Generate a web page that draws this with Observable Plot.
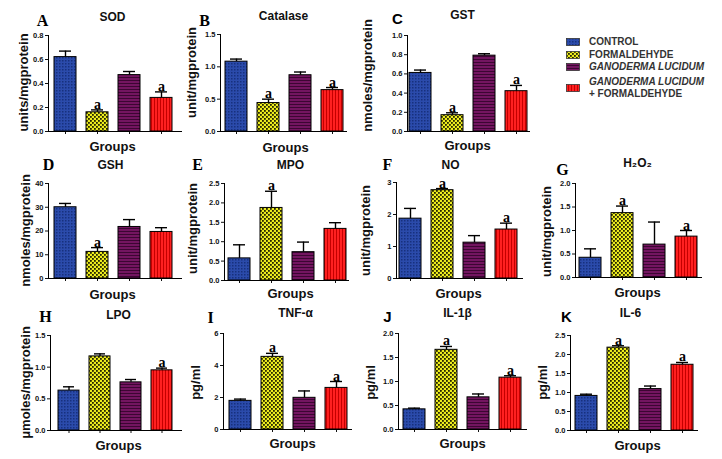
<!DOCTYPE html>
<html><head><meta charset="utf-8">
<script src="https://cdn.jsdelivr.net/npm/d3@7"></script>
<script src="https://cdn.jsdelivr.net/npm/@observablehq/plot@0.6"></script>
<style>
body{margin:0;background:#fff;}
#page{position:relative;width:722px;height:459px;overflow:hidden;font-family:"Liberation Sans",Arial,sans-serif;background:#fff;}
.panel{position:absolute;}
.panel svg{overflow:visible;}
#legend{position:absolute;left:566px;top:34px;font:bold 10px "Liberation Sans",Arial,sans-serif;color:#333;}
.lg{position:absolute;white-space:nowrap;}
.lg svg{position:absolute;left:0;}
.lg span{position:absolute;left:23px;line-height:12px;}
</style></head><body>
<svg width="0" height="0" style="position:absolute">
<defs>
<pattern id="pCtrl" width="3" height="3" patternUnits="userSpaceOnUse"><rect width="3" height="3" fill="#2b4bab"/><rect width="1.5" height="1.5" fill="#17307e"/></pattern>
<pattern id="pForm" width="4" height="4" patternUnits="userSpaceOnUse"><rect width="4" height="4" fill="#ecec1e"/><rect width="1.8" height="1.8" fill="#262600"/><rect x="2" y="2" width="1.8" height="1.8" fill="#262600"/></pattern>
<pattern id="pGano" width="4" height="3" patternUnits="userSpaceOnUse"><rect width="4" height="3" fill="#731560"/><rect y="2" width="4" height="1" fill="#3c0632"/></pattern>
<pattern id="pComb" width="3" height="4" patternUnits="userSpaceOnUse"><rect width="3" height="4" fill="#ff2020"/><rect x="2" width="1" height="4" fill="#c40000"/></pattern>
</defs></svg>
<div id="page"></div>
<script>
// ---- data ----
const groups = ["CONTROL", "FORMALDEHYDE", "GANODERMA LUCIDUM", "GANODERMA LUCIDUM + FORMALDEHYDE"];
const groupFills = ["url(#pCtrl)", "url(#pForm)", "url(#pGano)", "url(#pComb)"];

const sodMean = [0.62, 0.16, 0.47, 0.28];   const sodSem = [0.05, 0.02, 0.03, 0.05];   const sodSig = [0, 1, 0, 1];
const catMean = [1.08, 0.44, 0.87, 0.64];   const catSem = [0.04, 0.06, 0.05, 0.04];   const catSig = [0, 1, 0, 1];
const gstMean = [0.61, 0.17, 0.79, 0.42];   const gstSem = [0.03, 0.025, 0.02, 0.06];  const gstSig = [0, 1, 0, 1];
const gshMean = [30, 11.2, 21.7, 19.6];     const gshSem = [1.6, 1.8, 3.1, 1.8];       const gshSig = [0, 1, 0, 0];
const mpoMean = [0.57, 1.87, 0.73, 1.33];   const mpoSem = [0.35, 0.43, 0.26, 0.16];   const mpoSig = [0, 1, 0, 0];
const noMean  = [1.87, 2.76, 1.12, 1.53];   const noSem  = [0.32, 0.05, 0.22, 0.2];    const noSig  = [0, 1, 0, 1];
const h2o2Mean = [0.42, 1.37, 0.70, 0.87];  const h2o2Sem = [0.19, 0.15, 0.48, 0.13];  const h2o2Sig = [0, 1, 0, 1];
const lpoMean = [0.63, 1.17, 0.76, 0.95];   const lpoSem = [0.06, 0.04, 0.045, 0.035]; const lpoSig = [0, 0, 0, 1];
const tnfMean = [1.79, 4.54, 1.98, 2.6];    const tnfSem = [0.11, 0.22, 0.43, 0.4];    const tnfSig = [0, 1, 0, 1];
const il1Mean = [0.42, 1.66, 0.67, 1.08];   const il1Sem = [0.025, 0.07, 0.07, 0.04];  const il1Sig = [0, 1, 0, 1];
const il6Mean = [0.91, 2.18, 1.09, 1.73];   const il6Sem = [0.045, 0.05, 0.08, 0.06];  const il6Sig = [0, 1, 0, 1];

const sodTicks = [0, 0.2, 0.4, 0.6, 0.8];
const catTicks = [0, 0.5, 1.0, 1.5];
const gstTicks = [0, 0.2, 0.4, 0.6, 0.8, 1.0];
const gshTicks = [0, 10, 20, 30, 40];
const mpoTicks = [0, 0.5, 1.0, 1.5, 2.0, 2.5];
const noTicks = [0, 1, 2, 3];
const h2o2Ticks = [0, 0.5, 1.0, 1.5, 2.0];
const lpoTicks = [0, 0.5, 1.0, 1.5];
const tnfTicks = [0, 2, 4, 6];
const il1Ticks = [0, 0.5, 1.0, 1.5, 2.0];
const il6Ticks = [0, 0.5, 1.0, 1.5, 2.0, 2.5];

const panels = [
  {letter: "A", title: "SOD", ylabel: "units/mgprotein", mean: sodMean, sem: sodSem, sig: sodSig, ticks: sodTicks, fmt: ".1f"},
  {letter: "B", title: "Catalase", ylabel: "unit/mgprotein", mean: catMean, sem: catSem, sig: catSig, ticks: catTicks, fmt: ".1f"},
  {letter: "C", title: "GST", ylabel: "nmoles/mgprotein", mean: gstMean, sem: gstSem, sig: gstSig, ticks: gstTicks, fmt: ".1f", sansLetter: true},
  {letter: "D", title: "GSH", ylabel: "nmoles/mgprotein", mean: gshMean, sem: gshSem, sig: gshSig, ticks: gshTicks, fmt: "d"},
  {letter: "E", title: "MPO", ylabel: "unit/mgprotein", mean: mpoMean, sem: mpoSem, sig: mpoSig, ticks: mpoTicks, fmt: ".1f"},
  {letter: "F", title: "NO", ylabel: "unit/mgprotein", mean: noMean, sem: noSem, sig: noSig, ticks: noTicks, fmt: "d"},
  {letter: "G", title: "H₂O₂", ylabel: "unit/mgprotein", mean: h2o2Mean, sem: h2o2Sem, sig: h2o2Sig, ticks: h2o2Ticks, fmt: ".1f"},
  {letter: "H", title: "LPO", ylabel: "μmoles/mgprotein", mean: lpoMean, sem: lpoSem, sig: lpoSig, ticks: lpoTicks, fmt: ".1f"},
  {letter: "I", title: "TNF-α", ylabel: "pg/ml", mean: tnfMean, sem: tnfSem, sig: tnfSig, ticks: tnfTicks, fmt: "d"},
  {letter: "J", title: "IL-1β", ylabel: "pg/ml", mean: il1Mean, sem: il1Sem, sig: il1Sig, ticks: il1Ticks, fmt: ".1f", sansLetter: true},
  {letter: "K", title: "IL-6", ylabel: "pg/ml", mean: il6Mean, sem: il6Sem, sig: il6Sig, ticks: il6Ticks, fmt: ".1f", sansLetter: true}
];

// ---- layout (page pixel positions) ----
const layout = [
  {rowTop: 0, rowH: 156, axisX: 48, bars: [53, 172], axisEnd: 182, yTop: 35, yZero: 131, letterAt: [42, 20], titleAt: [112, 17], ylabAt: [23, 82], groupsAt: [112, 146]},
  {rowTop: 0, rowH: 156, axisX: 220, bars: [224, 344], axisEnd: 347, yTop: 34, yZero: 131, letterAt: [204, 20], titleAt: [283, 16], ylabAt: [191, 72], groupsAt: [285, 147]},
  {rowTop: 0, rowH: 156, axisX: 407, bars: [409, 527], axisEnd: 530, yTop: 35, yZero: 131, letterAt: [397, 19], titleAt: [462, 15], ylabAt: [367, 75], groupsAt: [467, 145]},
  {rowTop: 148, rowH: 154, axisX: 48, bars: [53, 172], axisEnd: 182, yTop: 183, yZero: 278, letterAt: [48, 164], titleAt: [110, 165], ylabAt: [25, 230], groupsAt: [112, 294]},
  {rowTop: 148, rowH: 154, axisX: 224, bars: [227, 346], axisEnd: 349, yTop: 183, yZero: 280, letterAt: [197, 164], titleAt: [290, 165], ylabAt: [192, 228], groupsAt: [290, 293]},
  {rowTop: 148, rowH: 154, axisX: 396, bars: [398, 517], axisEnd: 523, yTop: 182, yZero: 278, letterAt: [387, 164], titleAt: [450, 165], ylabAt: [365, 230], groupsAt: [458, 293]},
  {rowTop: 148, rowH: 154, axisX: 575, bars: [578, 697], axisEnd: 702, yTop: 183, yZero: 277, letterAt: [562, 169], titleAt: [637, 163], ylabAt: [546, 231], groupsAt: [637, 292]},
  {rowTop: 298, rowH: 161, axisX: 50, bars: [57, 173], axisEnd: 182, yTop: 335, yZero: 430, letterAt: [45, 316], titleAt: [118, 315], ylabAt: [25, 382], groupsAt: [118, 445]},
  {rowTop: 298, rowH: 161, axisX: 223, bars: [228, 347], axisEnd: 352, yTop: 333, yZero: 429, letterAt: [210, 317], titleAt: [295, 313], ylabAt: [195, 382], groupsAt: [292, 443]},
  {rowTop: 298, rowH: 161, axisX: 398, bars: [402, 522], axisEnd: 527, yTop: 333, yZero: 429, letterAt: [387, 317], titleAt: [457, 313], ylabAt: [370, 382], groupsAt: [462, 443]},
  {rowTop: 298, rowH: 161, axisX: 570, bars: [574, 694], axisEnd: 698, yTop: 335, yZero: 430, letterAt: [566, 317], titleAt: [630, 313], ylabAt: [542, 382], groupsAt: [637, 445]}
];

const SANS = "'Liberation Sans', Arial, Helvetica, sans-serif";
const SERIF = "'Liberation Serif', 'Times New Roman', serif";
const page = document.getElementById("page");

panels.forEach((p, i) => {
  const L = layout[i];
  const left = L.axisX - 46, top = L.rowTop;
  const width = L.axisEnd + 6 - left, height = L.rowH;
  const data = groups.map((g, k) => ({group: g, value: p.mean[k], upper: p.mean[k] + p.sem[k], sig: p.sig[k], fill: groupFills[k]}));
  const rel = (pt) => ({dx: pt[0] - L.axisX, dy: pt[1] - L.yTop});
  const chart = Plot.plot({
    width, height,
    marginLeft: L.axisX - left, marginRight: left + width - L.axisEnd,
    marginTop: L.yTop - top, marginBottom: top + height - L.yZero,
    style: {fontFamily: SANS, fontWeight: "bold", background: "transparent", color: "#111"},
    x: {domain: groups, range: [L.bars[0] - left, L.bars[1] - left], paddingInner: 0.32, paddingOuter: 0},
    y: {domain: [0, p.ticks[p.ticks.length - 1]]},
    color: {type: "identity"},
    marks: [
      Plot.barY(data, {x: "group", y: "value", fill: "fill", stroke: "#000", strokeWidth: 1}),
      Plot.ruleX(data, {x: "group", y1: "value", y2: "upper", stroke: "#000", strokeWidth: 1.4}),
      Plot.tickY(data, {x: "group", y: "upper", insetLeft: 5, insetRight: 5, stroke: "#000", strokeWidth: 1.4}),
      Plot.text(data.filter(d => d.sig), {x: "group", y: "upper", text: () => "a", lineAnchor: "bottom", dy: -1, fontSize: 14, fontFamily: SERIF, fontWeight: "bold", fill: "#000"}),
      Plot.axisY({ticks: p.ticks, tickFormat: d3.format(p.fmt), tickSize: 3, tickPadding: 2, fontSize: 7.5, label: null}),
      Plot.axisX({tickSize: 3, tickFormat: () => "", label: null}),
      Plot.frame({anchor: "left", stroke: "#000", strokeWidth: 1}),
      Plot.ruleY([0], {stroke: "#000", strokeWidth: 1}),
      Plot.text([p.letter], {frameAnchor: "top-left", ...rel(L.letterAt), textAnchor: "middle", lineAnchor: "middle",
        fontSize: p.sansLetter ? 15 : 16, fontFamily: p.sansLetter ? SANS : SERIF, fontWeight: "bold", fill: "#000"}),
      Plot.text([p.title], {frameAnchor: "top-left", ...rel(L.titleAt), textAnchor: "middle", lineAnchor: "middle", fontSize: 12, fontWeight: "bold", fill: "#111"}),
      Plot.text([p.ylabel], {frameAnchor: "top-left", ...rel(L.ylabAt), rotate: -90, textAnchor: "middle", lineAnchor: "middle", fontSize: 13, fontWeight: "bold", fill: "#111"}),
      Plot.text(["Groups"], {frameAnchor: "top-left", ...rel(L.groupsAt), textAnchor: "middle", lineAnchor: "middle", fontSize: 13, fontWeight: "bold", fill: "#111"})
    ]
  });
  const div = document.createElement("div");
  div.className = "panel";
  div.style.left = left + "px";
  div.style.top = top + "px";
  div.appendChild(chart);
  page.appendChild(div);
});

// ---- legend ----
const legendRows = [
  {text: ["CONTROL"], italic: [false], y: 2, sw: 4},
  {text: ["FORMALDEHYDE"], italic: [false], y: 15, sw: 17},
  {text: ["GANODERMA LUCIDUM"], italic: [true], y: 27, sw: 29},
  {text: ["GANODERMA LUCIDUM", "+ FORMALDEHYDE"], italic: [true, false], y: 42, sw: 50}
];
const legend = document.createElement("div");
legend.id = "legend";
legendRows.forEach((r, i) => {
  const row = document.createElement("div");
  row.className = "lg";
  row.style.top = "0px";
  row.innerHTML = `<svg width="15" height="9" style="top:${r.sw}px"><rect x="0.5" y="0.5" width="13" height="7" fill="${groupFills[i]}" stroke="#333" stroke-width="0.8"/></svg>` +
    `<span style="top:${r.y}px;${r.italic[0] ? "font-style:italic;" : ""}">${r.text[0]}</span>` +
    (r.text[1] ? `<span style="top:${r.y + 12}px;${r.italic[1] ? "font-style:italic;" : ""}">${r.text[1]}</span>` : "");
  legend.appendChild(row);
});
page.appendChild(legend);
</script>
</body></html>
